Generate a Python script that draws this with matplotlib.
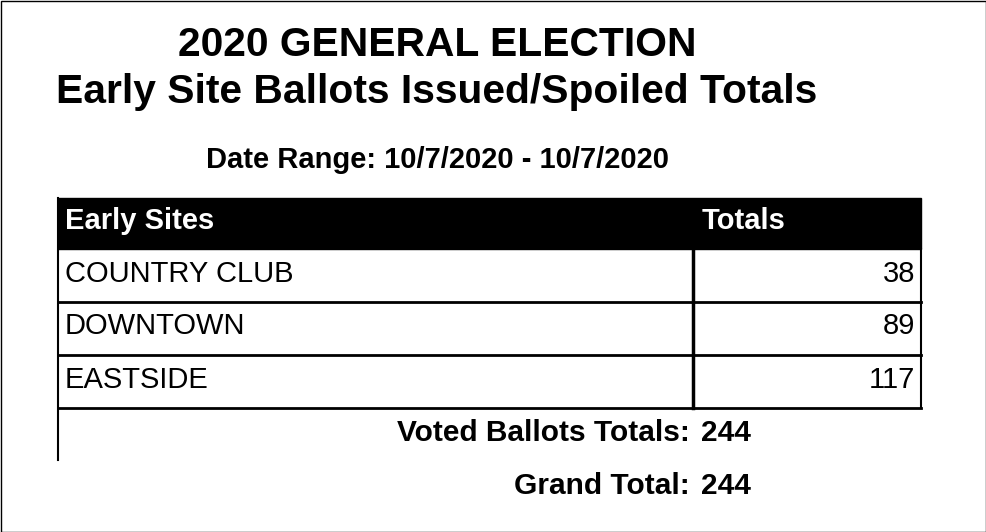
import matplotlib
matplotlib.use("Agg")
import matplotlib.pyplot as plt
from matplotlib.patches import Rectangle

plt.rcParams['font.family'] = ['Liberation Sans', 'DejaVu Sans']

title1 = "2020 GENERAL ELECTION"
title2 = "Early Site Ballots Issued/Spoiled Totals"
date_range = "Date Range: 10/7/2020 - 10/7/2020"
headers = ["Early Sites", "Totals"]
sites = ["COUNTRY CLUB", "DOWNTOWN", "EASTSIDE"]
totals = [38, 89, 117]
voted_total = 244
grand_total = 244

fig = plt.figure(figsize=(9.86, 5.32), dpi=100)
ax = fig.add_axes([0, 0, 1, 1])
ax.set_xlim(0, 986); ax.set_ylim(532, 0); ax.axis('off')

ax.add_patch(Rectangle((0.5, 0.5), 985, 531, fill=False, ec='black', lw=1))
ax.text(437, 45, title1, ha='center', va='center', fontsize=29.3, weight='bold')
ax.text(437, 92, title2, ha='center', va='center', fontsize=29.3, weight='bold')
ax.text(437, 160, date_range, ha='center', va='center', fontsize=21, weight='bold')

x0, xd, x1 = 58, 693, 921
hy0, hy1 = 198, 249
rh = 53
ax.add_patch(Rectangle((x0, hy0), x1 - x0, hy1 - hy0, fc='black', ec='black'))
ax.text(65, 221, headers[0], color='white', weight='bold', fontsize=21, va='center')
ax.text(702, 221, headers[1], color='white', weight='bold', fontsize=21, va='center')

for i, (s, t) in enumerate(zip(sites, totals)):
    y = hy1 + i * rh
    ax.plot([x0, x1], [y + rh, y + rh], color='black', lw=2)
    ax.text(65, y + rh / 2 - 2, s, fontsize=21, va='center')
    ax.text(915, y + rh / 2 - 2, str(t), fontsize=21, va='center', ha='right')
ybot = hy1 + len(sites) * rh
ax.plot([xd, xd], [hy1, ybot], color='black', lw=2.5)
ax.plot([x1, x1], [hy1, ybot], color='black', lw=1.5)
ax.plot([x0, x0], [hy0, 460], color='black', lw=1.5)

ax.text(690, 433, "Voted Ballots Totals:", ha='right', va='center', fontsize=21.5, weight='bold')
ax.text(701, 433, str(voted_total), ha='left', va='center', fontsize=21.5, weight='bold')
ax.text(690, 486, "Grand Total:", ha='right', va='center', fontsize=21.5, weight='bold')
ax.text(701, 486, str(grand_total), ha='left', va='center', fontsize=21.5, weight='bold')

fig.savefig("out.png", dpi=100)
